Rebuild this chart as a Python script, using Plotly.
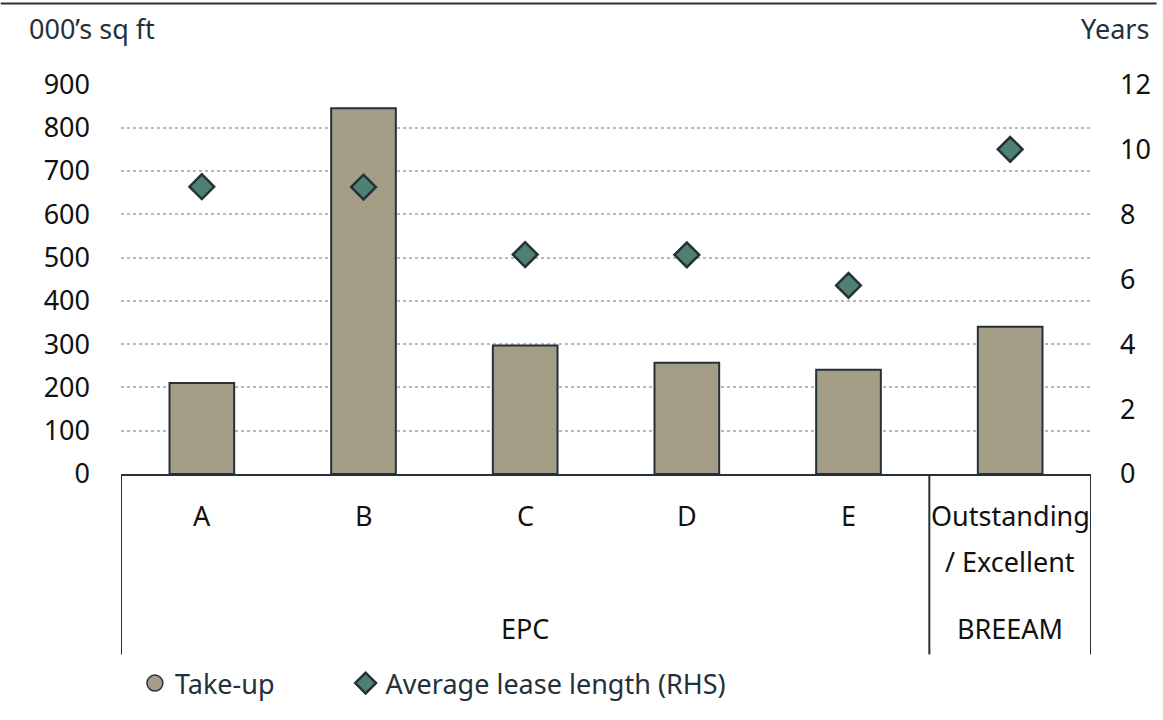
import plotly.graph_objects as go

# ---- data ----
categories = ["A", "B", "C", "D", "E", "Outstanding / Excellent"]
cat_line1 = ["A", "B", "C", "D", "E", "Outstanding"]
cat_line2 = ["", "", "", "", "", "/ Excellent"]
groups = ["EPC", "BREEAM"]
group_members = [["A", "B", "C", "D", "E"], ["Outstanding / Excellent"]]
take_up = [210, 845, 297, 257, 241, 340]            # 000's sq ft
lease_length = [8.85, 8.84, 6.76, 6.75, 5.81, 10.0]  # years (RHS)
left_ticks = [0, 100, 200, 300, 400, 500, 600, 700, 800, 900]
right_ticks = [0, 2, 4, 6, 8, 10, 12]

# ---- style ----
FONT = "Noto Sans"
FS = 27
BAR = "#a59e87"
DIAMOND = "#4e8270"
DARK = "#24313a"
TEXT = "#111111"
W, H = 1163, 720
L, R, T, B = 121, 66, 84, 234
PW, PH = W - L - R, H - T - B
YMAX = 901  # tiny headroom so the top gridline is drawn

def px_x(x):
    return (x - L) / PW

def px_y(y):
    return (H - B - y) / PH

fig = go.Figure()
fig.add_trace(go.Bar(x=categories, y=take_up, width=0.4, name="Take-up",
                     marker=dict(color=BAR, line=dict(color=DARK, width=2)),
                     showlegend=False))
fig.add_trace(go.Scatter(x=[None], y=[None], mode="markers", name="Take-up",
                         legend="legend",
                         marker=dict(symbol="circle", size=16, color=BAR,
                                     line=dict(color=DARK, width=1.5))))
fig.add_trace(go.Scatter(x=categories, y=lease_length, yaxis="y2", mode="markers",
                         name="Average lease length (RHS)", legend="legend2",
                         marker=dict(symbol="diamond", size=19, color=DIAMOND,
                                     line=dict(color=DARK, width=2.5))))

annotations = [
    dict(text="000’s sq ft", xref="paper", yref="paper", x=px_x(26), y=px_y(27),
         xanchor="left", yanchor="middle", showarrow=False,
         font=dict(size=FS, color=DARK, family=FONT)),
    dict(text="Years", xref="paper", yref="paper", x=px_x(1157), y=px_y(27),
         xanchor="right", yanchor="middle", showarrow=False,
         font=dict(size=FS, color=DARK, family=FONT)),
]
for c, l1, l2 in zip(categories, cat_line1, cat_line2):
    annotations.append(dict(text=l1, xref="x", yref="paper", x=c, y=px_y(529),
                            yanchor="middle", showarrow=False,
                            font=dict(size=FS, color=TEXT, family=FONT)))
    if l2:
        annotations.append(dict(text=l2, xref="x", yref="paper", x=c, y=px_y(576),
                                yanchor="middle", showarrow=False,
                                font=dict(size=FS, color=TEXT, family=FONT)))
for g, members in zip(groups, group_members):
    idx = [categories.index(m) for m in members]
    center = (min(idx) + max(idx)) / 2
    annotations.append(dict(text=g, xref="x", yref="paper", x=center, y=px_y(645),
                            yanchor="middle", showarrow=False,
                            font=dict(size=FS, color=TEXT, family=FONT)))

shapes = [dict(type="line", xref="paper", yref="paper", x0=px_x(0), x1=px_x(W),
               y0=px_y(1), y1=px_y(1), line=dict(color=DARK, width=2))]
bounds = [-0.5]
for members in group_members:
    bounds.append(bounds[-1] + len(members))
for b in bounds:
    shapes.append(dict(type="line", xref="x", yref="paper", x0=b, x1=b,
                       y0=0, y1=px_y(672), line=dict(color=DARK, width=2)))

legend_font = dict(size=FS, color=DARK, family=FONT)
fig.update_layout(
    width=W, height=H, autosize=False,
    margin=dict(l=L, r=R, t=T, b=B),
    paper_bgcolor="white", plot_bgcolor="white",
    font=dict(family=FONT, size=FS, color=TEXT),
    xaxis=dict(showticklabels=False, showline=True, linecolor=DARK, linewidth=2,
               ticks="", showgrid=False, range=[-0.5, 5.5]),
    yaxis=dict(range=[0, YMAX], tickvals=left_ticks, showgrid=True,
               gridcolor="#b8b8b8", griddash="dot", gridwidth=2,
               zeroline=False, ticks="", ticklabelstandoff=30,
               tickfont=dict(size=FS, color=TEXT, family=FONT)),
    yaxis2=dict(range=[0, 12 * YMAX / 900], tickvals=right_ticks, overlaying="y",
                side="right", showgrid=False, zeroline=False, ticks="",
                ticklabelstandoff=28,
                tickfont=dict(size=FS, color=TEXT, family=FONT)),
    legend=dict(orientation="h", x=px_x(135), y=px_y(702), xanchor="left",
                yanchor="middle", font=legend_font, bgcolor="rgba(0,0,0,0)"),
    legend2=dict(orientation="h", x=px_x(347), y=px_y(702), xanchor="left",
                 yanchor="middle", font=legend_font, bgcolor="rgba(0,0,0,0)"),
    annotations=annotations, shapes=shapes, showlegend=True,
)

fig.write_html("out.html", config={"displayModeBar": False},
               post_script="document.body.style.margin='0';")
